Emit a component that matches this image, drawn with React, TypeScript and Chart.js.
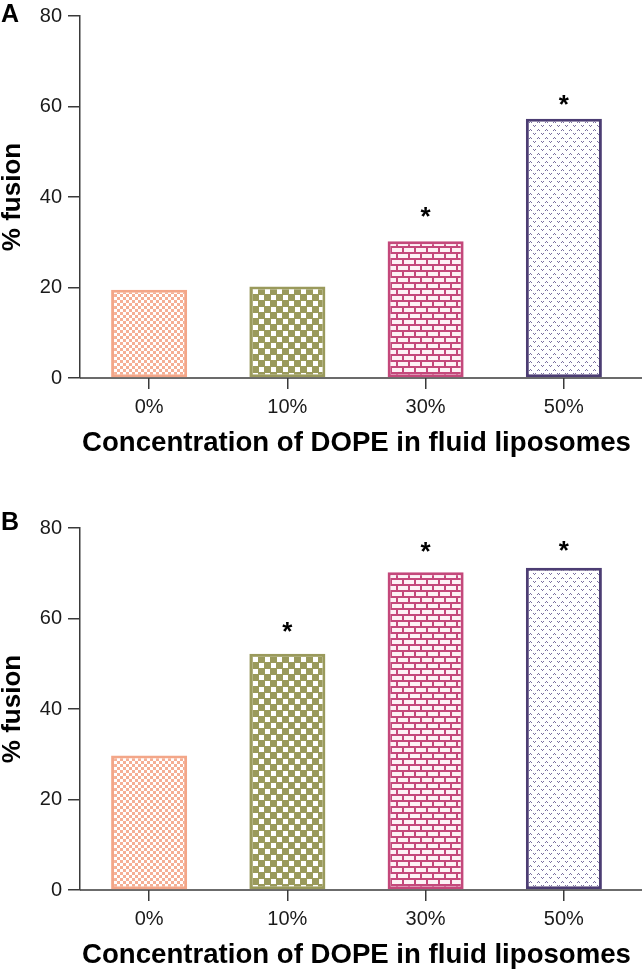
import React, { useEffect, useRef } from "react";
import { Chart, registerables } from "chart.js";

Chart.register(...registerables);

// ---- data ----
const categories = ["0%", "10%", "30%", "50%"];
const yTicks = [0, 20, 40, 60, 80];
const valuesA = [19.5, 20.2, 30.2, 57.3];
const valuesB = [29.7, 52.2, 70.2, 71.2];
// y-value (in % fusion units) where each significance asterisk sits; null = none
const starsA: (number | null)[] = [null, null, 36.3, 61.1];
const starsB: (number | null)[] = [null, 57.6, 75.4, 75.6];
const barColors = ["#F3A688", "#9A9A5C", "#C4487B", "#4C3D73"];
const patternKinds = ["fineCheck", "check", "brick", "dots"];
const xTitle = "Concentration of DOPE in fluid liposomes";
const yTitle = "% fusion";

const FONT = "'Liberation Sans', Arial, Helvetica, sans-serif";

function makePattern(kind: string, color: string): CanvasPattern | string {
  const c = document.createElement("canvas");
  const g = c.getContext("2d");
  if (!g) return color;
  if (kind === "fineCheck") {
    c.width = 6;
    c.height = 6;
    g.fillStyle = "#FFFFFF";
    g.fillRect(0, 0, 6, 6);
    g.fillStyle = "#F5AF95";
    g.fillRect(0, 0, 3, 3);
    g.fillRect(3, 3, 3, 3);
  } else if (kind === "check") {
    c.width = 12;
    c.height = 12;
    g.fillStyle = color;
    g.fillRect(0, 0, 12, 12);
    g.fillStyle = "#FFFFFF";
    g.fillRect(1, 1, 5, 5);
    g.fillRect(7, 7, 5, 5);
  } else if (kind === "brick") {
    c.width = 12;
    c.height = 12;
    g.fillStyle = "#FDF1F5";
    g.fillRect(0, 0, 12, 12);
    g.fillStyle = color;
    g.fillRect(0, 0, 12, 2);
    g.fillRect(0, 6, 12, 2);
    g.fillRect(0, 0, 2, 6);
    g.fillRect(6, 6, 2, 6);
  } else {
    c.width = 8;
    c.height = 8;
    g.fillStyle = "#FFFFFF";
    g.fillRect(0, 0, 8, 8);
    g.fillStyle = "#7A6FA0";
    // "^"
    g.fillRect(1, 2, 1, 1);
    g.fillRect(2, 1, 1, 1);
    g.fillRect(3, 2, 1, 1);
    // "v"
    g.fillRect(5, 5, 1, 1);
    g.fillRect(6, 6, 1, 1);
    g.fillRect(7, 5, 1, 1);
  }
  return g.createPattern(c, "repeat") || color;
}

const axisLinePlugin = {
  id: "axisLine",
  beforeDatasetsDraw(chart: any) {
    const { ctx, chartArea, scales } = chart;
    const y0 = scales.y.getPixelForValue(0);
    ctx.save();
    ctx.strokeStyle = "#3A3A3A";
    ctx.lineWidth = 1.5;
    ctx.beginPath();
    ctx.moveTo(chartArea.left, y0);
    ctx.lineTo(chart.width, y0);
    ctx.stroke();
    ctx.restore();
  },
};

const starsPlugin = {
  id: "stars",
  afterDatasetsDraw(chart: any, _args: any, opts: any) {
    const stars: (number | null)[] = opts.stars || [];
    const { ctx, scales } = chart;
    const meta = chart.getDatasetMeta(0);
    ctx.save();
    ctx.fillStyle = "#000";
    ctx.font = `bold 26px ${FONT}`;
    ctx.textAlign = "center";
    ctx.textBaseline = "alphabetic";
    stars.forEach((s, i) => {
      if (s === null || s === undefined) return;
      const el = meta.data[i];
      const yc = scales.y.getPixelForValue(s);
      ctx.fillText("*", el.x, yc + 11);
    });
    ctx.restore();
  },
};

function Panel({ values, stars, letter, top }: { values: number[]; stars: (number | null)[]; letter: string; top: number }) {
  const ref = useRef<HTMLCanvasElement | null>(null);
  useEffect(() => {
    if (!ref.current) return;
    const bg = barColors.map((c, i) => makePattern(patternKinds[i], c));
    const chart = new Chart(ref.current, {
      type: "bar",
      data: {
        labels: categories,
        datasets: [
          {
            data: values,
            backgroundColor: bg as any,
            borderColor: barColors,
            borderWidth: 3,
            borderSkipped: false,
            barPercentage: 0.55,
            categoryPercentage: 1,
          },
        ],
      },
      plugins: [axisLinePlugin, starsPlugin],
      options: {
        animation: false,
        responsive: false,
        layout: { padding: { left: 0, right: 9, top: 0, bottom: 0 } },
        plugins: {
          legend: { display: false },
          tooltip: { enabled: false },
          stars: { stars },
        } as any,
        scales: {
          x: {
            grid: {
              display: true,
              drawOnChartArea: false,
              drawTicks: true,
              tickLength: 11,
              offset: false,
              color: "#3A3A3A",
              lineWidth: 1.5,
            },
            border: { display: false },
            ticks: {
              font: { size: 20, family: FONT, lineHeight: 1 },
              color: "#1A1A1A",
              padding: 8,
              maxRotation: 0,
            },
            title: {
              display: true,
              text: xTitle,
              font: { size: 27.6, weight: "bold", family: FONT, lineHeight: 1 },
              color: "#000",
              padding: { top: 0, bottom: 1.5 },
            },
            afterFit: (s: any) => {
              s.height = 81;
            },
          } as any,
          y: {
            min: 0,
            max: 80,
            afterBuildTicks: (s: any) => {
              s.ticks = yTicks.map((v) => ({ value: v }));
            },
            grid: {
              drawOnChartArea: false,
              drawTicks: true,
              tickLength: 12,
              color: "#3A3A3A",
              lineWidth: 1.5,
            },
            border: { display: true, color: "#3A3A3A", width: 1.5 },
            ticks: {
              font: { size: 20, family: FONT, lineHeight: 1 },
              color: "#1A1A1A",
              padding: 6,
            },
            title: {
              display: true,
              text: yTitle,
              font: { size: 26, weight: "bold", family: FONT, lineHeight: 1 },
              color: "#000",
              padding: { top: 0, bottom: 0 },
            },
            afterFit: (s: any) => {
              s.width = 80;
            },
          } as any,
        },
      },
    });
    return () => chart.destroy();
  }, [values, stars]);

  return (
    <>
      <div
        style={{
          position: "absolute",
          left: 0,
          top,
          width: 642,
          height: 459,
        }}
      >
        <canvas ref={ref} width={642} height={459} style={{ display: "block", width: 642, height: 459 }} />
      </div>
      <div
        style={{
          position: "absolute",
          left: 1,
          top: top === 0 ? 1 : top - 3,
          font: `bold 25px ${FONT}`,
          lineHeight: "25px",
          color: "#000",
        }}
      >
        {letter}
      </div>
    </>
  );
}

export default function App() {
  return (
    <div style={{ position: "absolute", left: 0, top: 0, width: 642, height: 971, background: "#fff", overflow: "hidden" }}>
      <Panel values={valuesA} stars={starsA} letter="A" top={0} />
      <Panel values={valuesB} stars={starsB} letter="B" top={512} />
    </div>
  );
}
